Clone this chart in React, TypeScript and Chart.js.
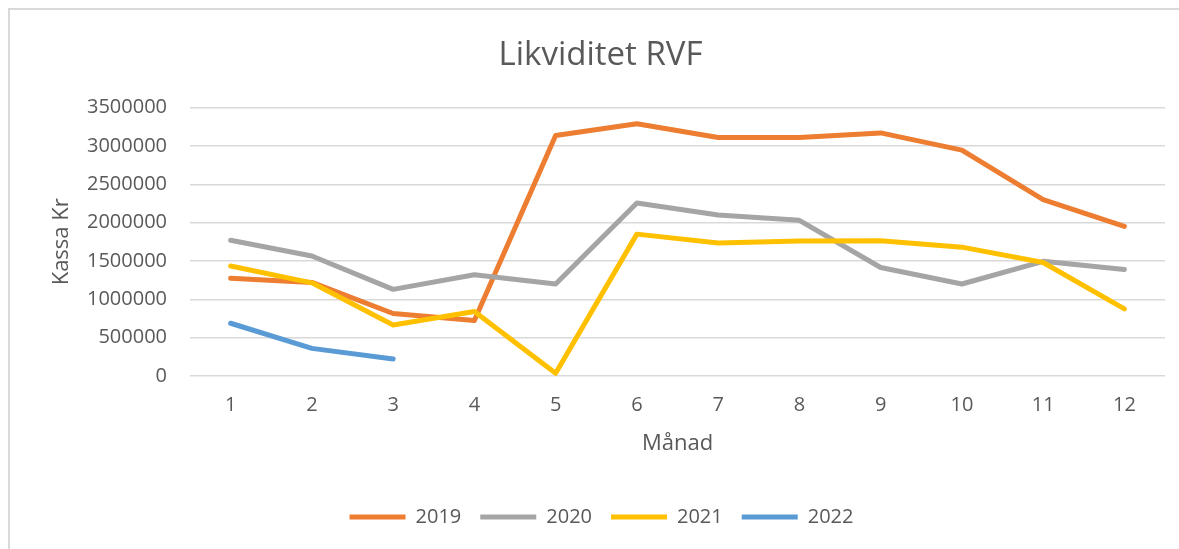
import React, { useEffect, useRef } from "react";
import { Chart, registerables } from "chart.js";

Chart.register(...registerables);

const months: string[] = ["1", "2", "3", "4", "5", "6", "7", "8", "9", "10", "11", "12"];
const series2019: number[] = [1275000, 1220000, 815000, 725000, 3135000, 3290000, 3110000, 3110000, 3170000, 2945000, 2300000, 1950000];
const series2020: number[] = [1770000, 1565000, 1130000, 1320000, 1200000, 2255000, 2100000, 2030000, 1415000, 1200000, 1495000, 1390000];
const series2021: number[] = [1435000, 1215000, 665000, 840000, 35000, 1850000, 1735000, 1760000, 1765000, 1680000, 1480000, 875000];
const series2022: number[] = [688000, 360000, 222000];
const seriesNames: string[] = ["2019", "2020", "2021", "2022"];
const seriesColors: string[] = ["#ED7D31", "#A5A5A5", "#FFC000", "#5B9BD5"];

const FONT = "'Open Sans', 'DejaVu Sans', sans-serif";
const TEXT = "#595959";

const shiftPlugin = {
  id: "shiftBlocks",
  afterLayout(chart: any) {
    const t = chart.titleBlock;
    if (t) {
      t.left += 13;
      t.right += 13;
    }
    const l = chart.legend;
    if (l) {
      l.left += 14;
      l.right += 14;
    }
  },
};

export default function App() {
  const ref = useRef<HTMLCanvasElement | null>(null);

  useEffect(() => {
    if (!ref.current) return;
    const all = [series2019, series2020, series2021, series2022];
    const chart = new Chart(ref.current, {
      type: "line",
      plugins: [shiftPlugin],
      data: {
        labels: months,
        datasets: all.map((d, i) => ({
          label: seriesNames[i],
          data: d,
          borderColor: seriesColors[i],
          backgroundColor: seriesColors[i],
          borderWidth: 5,
          borderCapStyle: "round" as const,
          borderJoinStyle: "round" as const,
          pointRadius: 0,
          tension: 0,
          fill: false,
          order: all.length - 1 - i,
        })),
      },
      options: {
        animation: false,
        responsive: true,
        maintainAspectRatio: false,
        layout: { padding: { left: 0, right: 14, top: 0, bottom: 12 } },
        plugins: {
          title: {
            display: true,
            text: "Likviditet RVF",
            color: TEXT,
            font: { family: FONT, size: 33, weight: "normal" },
            padding: { top: 26, bottom: 32 },
          },
          legend: {
            position: "bottom",
            labels: {
              color: TEXT,
              font: { family: FONT, size: 20 },
              boxWidth: 56,
              boxHeight: 5,
              padding: 19,
              sort: (a: any, b: any) => a.datasetIndex - b.datasetIndex,
              generateLabels: (c: any) =>
                c.data.datasets.map((ds: any, i: number) => ({
                  text: ds.label,
                  fillStyle: ds.borderColor,
                  strokeStyle: ds.borderColor,
                  lineWidth: 0,
                  hidden: false,
                  datasetIndex: i,
                  fontColor: TEXT,
                })),
            },
          },
          tooltip: { enabled: false },
        },
        scales: {
          x: {
            offset: true,
            grid: { display: false, drawTicks: false },
            border: { display: false },
            ticks: { color: TEXT, font: { family: FONT, size: 20 }, padding: 17, maxRotation: 0 },
            title: {
              display: true,
              text: "Månad",
              color: TEXT,
              font: { family: FONT, size: 22 },
              padding: { top: 16, bottom: 31 },
            },
            afterFit: (s: any) => {
              s.height = 112;
            },
          },
          y: {
            min: 0,
            max: 3500000,
            grid: { color: "#d9d9d9", lineWidth: 1.5, drawTicks: false },
            border: { display: false },
            ticks: {
              stepSize: 500000,
              color: TEXT,
              font: { family: FONT, size: 20 },
              padding: 23,
              callback: (v: any) => String(v),
            },
            title: {
              display: true,
              text: "Kassa Kr",
              color: TEXT,
              font: { family: FONT, size: 22 },
              padding: { top: 39, bottom: 0 },
            },
            afterFit: (s: any) => {
              s.width = 180;
            },
          },
        },
      },
    });
    return () => chart.destroy();
  }, []);

  return (
    <div
      style={{
        position: "fixed",
        left: 8,
        top: 8,
        boxSizing: "border-box",
        borderLeft: "2px solid #d9d9d9",
        borderTop: "2px solid #d9d9d9",
        width: 1171,
        height: 541,
        overflow: "hidden",
        background: "#fff",
      }}
    >
      <div style={{ position: "relative", width: 1169, height: 539 }}>
        <canvas ref={ref} />
      </div>
    </div>
  );
}
